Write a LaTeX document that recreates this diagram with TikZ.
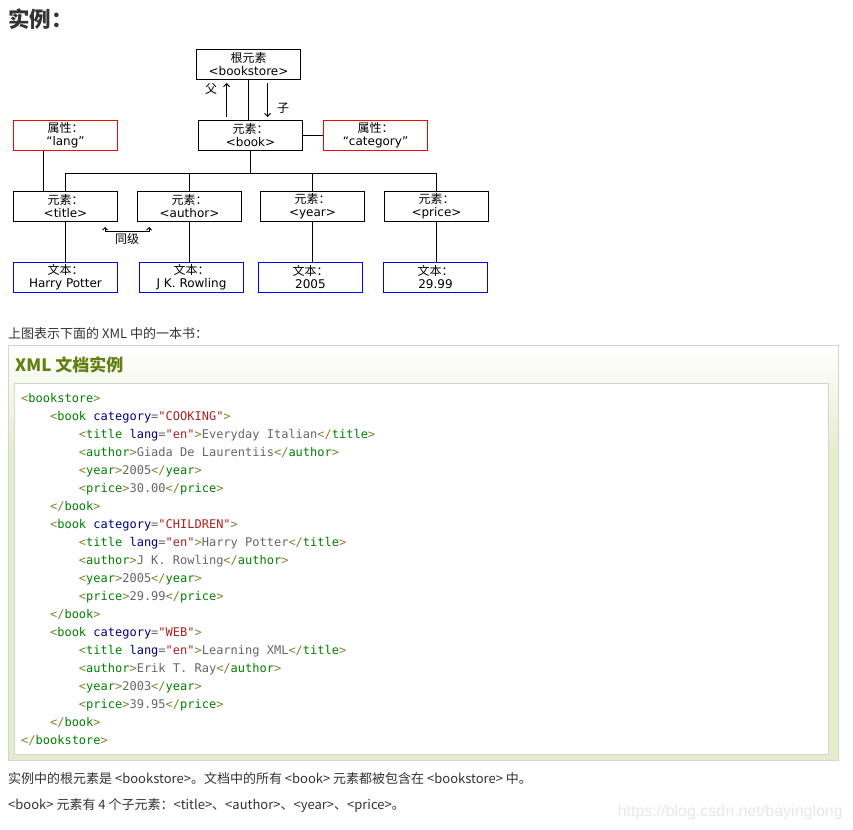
\documentclass[tikz,border=0pt]{standalone}
\usepackage{fontspec}
\setmainfont{Noto Sans CJK SC}
\setmonofont{DejaVu Sans Mono}
\newfontfamily\boxfont{DejaVu Sans}
\newfontfamily\wmfont{Liberation Sans}
\usetikzlibrary{arrows.meta}

\definecolor{bodytext}{HTML}{333333}
\definecolor{panelgreen}{HTML}{E5EECC}
\definecolor{panelline}{HTML}{D4D4D4}
\definecolor{headgreen}{HTML}{617F10}
\definecolor{xpunct}{HTML}{808030}
\definecolor{xtag}{HTML}{008000}
\definecolor{xattr}{HTML}{000080}
\definecolor{xval}{HTML}{B02020}
\definecolor{xtext}{HTML}{666666}
\definecolor{wmgrey}{HTML}{E8E8E8}
\definecolor{attrred}{HTML}{FF0000}
\definecolor{textblue}{HTML}{0000FF}

% box text: chinese line over a latin line
\newcommand\bx[2]{#1\\{\boxfont #2}}
% xml listing pieces
\newcommand\tab{\phantom{0000}}
\newcommand\xo[1]{{\color{xpunct}<}{\color{xtag}#1}}
\newcommand\xc{{\color{xpunct}>}}
\newcommand\xe[1]{{\color{xpunct}</}{\color{xtag}#1}{\color{xpunct}>}}
\newcommand\xa[2]{{\color{xattr}#1}{\color{xtext}=}{\color{xval}"#2"}}
\newcommand\xt[1]{{\color{xtext}#1}}
\newcommand\xl[2]{\xo{#1}\xc\xt{#2}\xe{#1}}

\tikzset{
  treebox/.style={line width=1pt, minimum width=104pt, minimum height=30pt,
    inner sep=0pt, align=center, font=\fontsize{12}{13}\selectfont},
  elem/.style={treebox, draw=black},
  attrbox/.style={treebox, draw=attrred},
  txt/.style={treebox, draw=textblue},
  link/.style={line width=1pt},
  tip/.style={line width=1pt, -{Straight Barb[length=3pt,width=6pt]}},
  lbl/.style={inner sep=0pt, font=\fontsize{12}{13}\selectfont},
  para/.style={inner sep=0pt, anchor=base west, text=bodytext, font=\fontsize{13}{15}\selectfont},
}

\begin{document}
\begin{tikzpicture}[x=1pt, y=-1pt]
  \fill[white] (0,0) rectangle (853,829);
  \useasboundingbox (0,0) rectangle (853,829);

  \node[anchor=base west, inner sep=0pt, text=bodytext, font=\fontsize{21.5}{23}\bfseries] (title) at (8,28) {实例：};

  % Tree
  \node[elem] (bookstore) at (248.5,64.5) {\bx{根元素}{<bookstore>}};
  \node[elem] (book) at (250.5,135.5) {\bx{元素：}{<book>}};
  \node[attrbox] (lang) at (65.5,135.5) {\bx{属性：}{“lang”}};
  \node[attrbox] (category) at (375.5,135.5) {\bx{属性：}{“category”}};
  \node[elem] (etitle) at (65.5,206.5) {\bx{元素：}{<title>}};
  \node[elem] (author) at (189.5,206.5) {\bx{元素：}{<author>}};
  \node[elem] (year) at (312.5,206.5) {\bx{元素：}{<year>}};
  \node[elem] (price) at (436.5,206.5) {\bx{元素：}{<price>}};
  \node[txt] (ttitle) at (65.5,277.5) {\bx{文本：}{Harry Potter}};
  \node[txt] (tauthor) at (191.5,277.5) {\bx{文本：}{J K. Rowling}};
  \node[txt] (tyear) at (310.5,277.5) {\bx{文本：}{2005}};
  \node[txt] (tprice) at (435.5,277.5) {\bx{文本：}{29.99}};

  \draw[link] (bookstore.south) -- (bookstore.south |- book.north);
  \draw[tip, shorten <=3pt, shorten >=3pt] ([xshift=-24]book.north) -- ([xshift=-24]book.north |- bookstore.south);
  \draw[tip, shorten <=3pt, shorten >=3pt] ([xshift=17]book.north |- bookstore.south) -- ([xshift=17]book.north);
  \node[lbl] (up) at (211,89) {父};
  \node[lbl] (down) at (283,108) {子};
  \draw[link] (book.east) -- (category.west);
  \foreach \c in {etitle,author,year,price}
    \draw[link] (book.south) -- ++(0,23) -| (\c.north);
  \draw[link] ([xshift=-22]lang.south) -- ([xshift=-22]etitle.north);
  \foreach \c/\t in {etitle/ttitle,author/tauthor,year/tyear,price/tprice}
    \draw[link] (\c.south) -- (\c.south |- \t.north);
  \draw[line width=1pt, {Straight Barb[length=2.5pt,width=5pt]}-{Straight Barb[length=2.5pt,width=5pt]}]
    ([shift={(-13,5)}]etitle.south east) -- ++(0,4) -| ([shift={(12,5)}]author.south west);
  \node[lbl] (sib) at (127,239) {同级};

  % Listing panel
  \node[para] (intro) at (8,338) {上图表示下面的 XML 中的一本书：};
  \shade[top color=white, bottom color=panelgreen] (8.5,345.5) rectangle (838.5,450);
  \fill[panelgreen] (8.5,450) rectangle (838.5,760.5);
  \draw[panelline] (8.5,345.5) rectangle (838.5,760.5);
  \node[anchor=base west, inner sep=0pt, text=headgreen, font=\fontsize{17}{19}\bfseries] (head) at (15,371) {XML 文档实例};
  \draw[panelline, fill=white] (14.5,383.5) rectangle (828.5,754.5);
  \node[anchor=north west, inner sep=0pt, align=left, font=\ttfamily\fontsize{12}{18}\selectfont] (xml) at (21,393) {%
    \xo{bookstore}\xc\\
    \tab\xo{book} \xa{category}{COOKING}\xc\\
    \tab\tab\xo{title} \xa{lang}{en}\xc\xt{Everyday Italian}\xe{title}\\
    \tab\tab\xl{author}{Giada De Laurentiis}\\
    \tab\tab\xl{year}{2005}\\
    \tab\tab\xl{price}{30.00}\\
    \tab\xe{book}\\
    \tab\xo{book} \xa{category}{CHILDREN}\xc\\
    \tab\tab\xo{title} \xa{lang}{en}\xc\xt{Harry Potter}\xe{title}\\
    \tab\tab\xl{author}{J K. Rowling}\\
    \tab\tab\xl{year}{2005}\\
    \tab\tab\xl{price}{29.99}\\
    \tab\xe{book}\\
    \tab\xo{book} \xa{category}{WEB}\xc\\
    \tab\tab\xo{title} \xa{lang}{en}\xc\xt{Learning XML}\xe{title}\\
    \tab\tab\xl{author}{Erik T. Ray}\\
    \tab\tab\xl{year}{2003}\\
    \tab\tab\xl{price}{39.95}\\
    \tab\xe{book}\\
    \xe{bookstore}};

  \node[para] (note1) at (8,783) {实例中的根元素是 <bookstore>。文档中的所有 <book> 元素都被包含在 <bookstore> 中。};
  \node[para] (note2) at (8,809) {<book> 元素有 4 个子元素：<title>、<author>、<year>、<price>。};
  \node[anchor=base east, inner sep=0pt, text=wmgrey, font=\wmfont\fontsize{16}{18}\selectfont] (mark) at (843,816) {https://blog.csdn.net/bayinglong};
\end{tikzpicture}
\end{document}
